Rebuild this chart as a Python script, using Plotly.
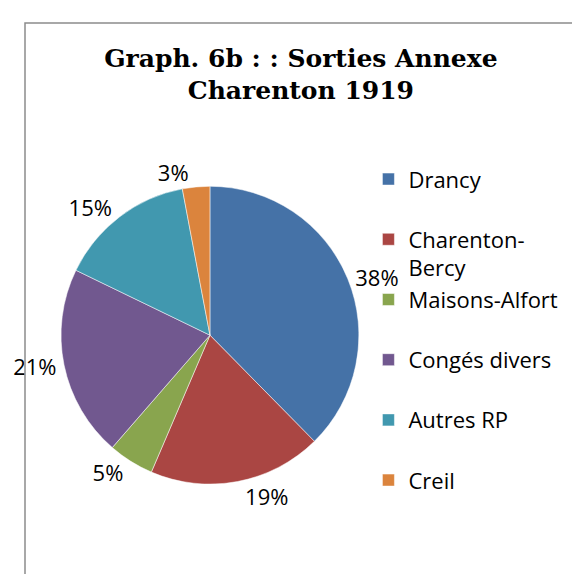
import plotly.graph_objects as go

# Sorties Annexe Charenton 1919 (parts en %)
lieux = ["Drancy", "Charenton-<br>Bercy", "Maisons-Alfort", "Congés divers", "Autres RP", "Creil"]
parts = [38, 19, 5, 21, 15, 3]
couleurs = ["#4572A7", "#AA4643", "#89A54E", "#71588F", "#4198AF", "#DB843D"]

# noms de légende sur deux lignes pour espacer les entrées comme dans Excel
noms_legende = [n if "<br>" in n else n + "<br> " for n in lieux]

fig = go.Figure(go.Pie(
    labels=noms_legende,
    values=parts,
    text=[f"{p}%" for p in parts],
    textinfo="text",
    textposition="outside",
    textfont=dict(family="Open Sans", size=22, color="black"),
    marker=dict(colors=couleurs, line=dict(color="white", width=0.5)),
    sort=False,
    direction="clockwise",
    rotation=0,
    domain=dict(x=[0.064, 0.593], y=[0.173, 0.71]),
    hoverinfo="label+percent",
))

fig.update_layout(
    width=580, height=574,
    margin=dict(l=13, r=0, t=15, b=0),
    paper_bgcolor="white",
    title=dict(
        text="<b>Graph. 6b : : Sorties Annexe<br>Charenton 1919</b>",
        font=dict(family="DejaVu Serif", size=25, color="black"),
        x=0.505, xanchor="center",
        y=0.898, yanchor="top",
    ),
    legend=dict(
        x=0.61, xanchor="left",
        y=0.758, yanchor="top",
        valign="top",
        font=dict(family="Open Sans", size=22, color="black"),
        bgcolor="rgba(0,0,0,0)",
    ),
    shapes=[dict(
        type="rect", xref="paper", yref="paper",
        x0=0, y0=-0.01, x1=1.05, y1=1,
        line=dict(color="#8c8c8c", width=1.5),
    )],
)

fig.write_html("out.html")
